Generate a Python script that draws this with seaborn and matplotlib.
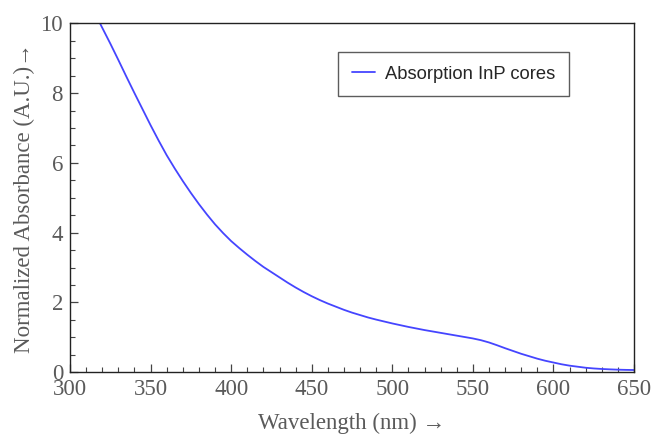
import matplotlib
matplotlib.use("Agg")
import matplotlib.pyplot as plt
from matplotlib.ticker import MultipleLocator
import seaborn as sns
import pandas as pd

wavelength = [318.6, 325, 330, 335, 340, 345, 350, 355, 360, 365, 370, 375, 380, 385, 390, 395, 400, 405, 410,
              415, 420, 425, 430, 435, 440, 445, 450, 455, 460, 465, 470, 475, 480, 485,
              490, 495, 500, 505, 510, 515, 520, 525, 530, 535, 540, 545, 550, 555, 560, 565, 570, 575,
              580, 585, 590, 595, 600, 605, 610, 615, 620, 625, 630, 635, 640, 645, 650]
absorbance = [10.0, 9.42, 8.95, 8.47, 8.0, 7.54, 7.08, 6.64, 6.22, 5.84, 5.48, 5.14, 4.82, 4.52, 4.24, 3.99, 3.76,
              3.56, 3.37, 3.19, 3.02, 2.87, 2.72, 2.57, 2.43, 2.30, 2.18, 2.07, 1.97, 1.88, 1.79, 1.71, 1.64, 1.57,
              1.51, 1.455, 1.40, 1.35, 1.30, 1.255, 1.21, 1.17, 1.13, 1.09, 1.05, 1.01, 0.97, 0.92, 0.855, 0.775,
              0.69, 0.61, 0.53, 0.46, 0.39, 0.33, 0.28, 0.23, 0.19, 0.16, 0.13, 0.11, 0.095, 0.084, 0.075, 0.069, 0.065]
series_name = "Absorption InP cores"
x_ticks = [300, 350, 400, 450, 500, 550, 600, 650]
y_ticks = [0, 2, 4, 6, 8, 10]

df = pd.DataFrame({"Wavelength": wavelength, "Absorbance": absorbance, "Series": series_name})

sns.set_style("white")
plt.rcParams['font.family'] = ['Liberation Serif', 'DejaVu Serif']

fig = plt.figure(figsize=(6.52, 4.34), dpi=100)
ax = fig.add_axes([0.1074, 0.1422, 0.865, 0.804])

sns.lineplot(data=df, x="Wavelength", y="Absorbance", hue="Series", palette=["#4545ff"],
             linewidth=1.3, ax=ax, estimator=None, sort=True)

ax.set_xlim(300, 650)
ax.set_ylim(0, 10)
ax.set_xticks(x_ticks)
ax.set_yticks(y_ticks)
ax.xaxis.set_minor_locator(MultipleLocator(10))
ax.yaxis.set_minor_locator(MultipleLocator(0.5))

tick_color = "#5a5a5a"
ax.tick_params(axis="both", which="major", direction="in", length=6, width=0.9, color="#444444",
               labelsize=16.5, labelcolor=tick_color, bottom=True, left=True, top=False, right=False)
ax.tick_params(axis="x", which="major", pad=5)
ax.tick_params(axis="y", which="major", pad=5)
ax.tick_params(axis="both", which="minor", direction="in", length=3.5, width=0.8, color="#444444",
               bottom=True, left=True, top=False, right=False)
for s in ax.spines.values():
    s.set_color("#222222")
    s.set_linewidth(1.0)

ax.set_xlabel("Wavelength (nm) →", fontsize=16.5, color=tick_color, labelpad=9)
ax.set_ylabel("Normalized Absorbance (A.U.)→", fontsize=16.5, color=tick_color, labelpad=4)

leg = ax.legend(loc="upper left", bbox_to_anchor=(0.475, 0.918), frameon=True, fancybox=False,
                prop={"family": "Liberation Sans", "size": 13.2}, handlelength=1.3, borderpad=0.75,
                handletextpad=0.5, borderaxespad=0)
leg.get_frame().set_edgecolor("#333333")
leg.get_frame().set_linewidth(1.0)

fig.savefig("out.png", dpi=100)
